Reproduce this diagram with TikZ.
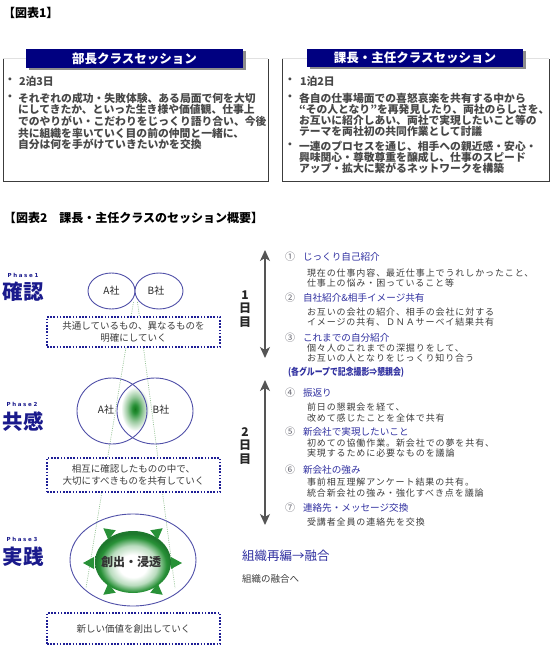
\documentclass[tikz,border=0pt]{standalone}
\usepackage{fontspec}
\setmainfont{Noto Sans CJK JP}
\newfontfamily\phasefont[LetterSpace=30]{DejaVu Sans}
\newfontfamily\descfont[LetterSpace=10]{Noto Sans CJK JP}
\usetikzlibrary{arrows.meta,shadows,shapes.geometric}
\definecolor{hdrnavy}{RGB}{0,0,128}
\definecolor{boxtext}{RGB}{72,72,72}
\definecolor{itemblue}{RGB}{48,48,160}
\definecolor{phaseblue}{RGB}{26,26,140}
\definecolor{ellblue}{RGB}{80,80,168}
\definecolor{dotblue}{RGB}{30,30,150}
\definecolor{ballgreen}{RGB}{40,145,55}
\definecolor{balldark}{RGB}{30,120,45}
\definecolor{balllight}{RGB}{185,220,190}
\definecolor{blobdark}{RGB}{20,120,30}
\definecolor{bloblight}{RGB}{150,200,155}
\definecolor{linegreen}{RGB}{150,195,150}
\definecolor{arrowgray}{RGB}{85,85,85}
\definecolor{desctext}{RGB}{60,60,60}
\definecolor{numgray}{RGB}{100,100,110}
\definecolor{edgedark}{RGB}{60,60,60}
\definecolor{edgelight}{RGB}{225,225,225}
\pgfdeclareradialshading{ballshade}{\pgfpoint{0bp}{-4bp}}{color(0bp)=(white); color(9bp)=(white); color(16bp)=(balllight); color(22bp)=(ballgreen); color(25bp)=(balldark); color(50bp)=(balldark)}
\pgfdeclareradialshading{blobshade}{\pgfpoint{0bp}{0bp}}{color(0bp)=(blobdark); color(5bp)=(ballgreen); color(14bp)=(bloblight); color(25bp)=(white); color(50bp)=(white)}
\begin{document}
\begin{tikzpicture}[x=1pt,y=-1pt,
  every node/.style={inner sep=0pt, outer sep=0pt},
  title/.style={anchor=west, font=\bfseries\fontsize{12}{14}\selectfont},
  hdr/.style={fill=hdrnavy, text=white, font=\bfseries\fontsize{12.5}{14}\selectfont,
    drop shadow={shadow xshift=2.5pt, shadow yshift=-2.5pt, fill=black!45, opacity=1}},
  panel/.style={},
  boxedge/.style={draw=edgedark, line width=1pt},
  boxtop/.style={draw=edgelight, line width=1pt},
  btxt/.style={text=boxtext, font=\bfseries\fontsize{10.8}{11.6}\selectfont, align=left},
  bull/.style={text=boxtext, font=\bfseries\fontsize{10.8}{11.6}\selectfont},
  phsmall/.style={text=phaseblue, font=\phasefont\bfseries\fontsize{5.5}{6}\selectfont},
  phbig/.style={text=phaseblue, font=\bfseries\fontsize{20.5}{22}\selectfont},
  ell/.style={ellipse, draw=ellblue, line width=0.9pt},
  comp/.style={font=\fontsize{10}{12}\selectfont, text=black!85},
  dbox/.style={draw=dotblue, fill=white, line width=1.6pt, dash pattern=on 1.6pt off 1.6pt,
    minimum width=173, align=center, font=\fontsize{9.5}{12}\selectfont, text=desctext},
  gline/.style={draw=linegreen, line width=0.7pt, dash pattern=on 1pt off 1.2pt},
  dayarrow/.style={draw=arrowgray, line width=1.3pt,
    {Stealth[width=10pt,length=11pt,inset=3pt]}-{Stealth[width=10pt,length=11pt,inset=3pt]}},
  daylbl/.style={align=center, font=\bfseries\fontsize{12}{13.3}\selectfont, text=black!85},
  num/.style={text=numgray, font=\fontsize{10}{12}\selectfont},
  ititle/.style={anchor=west, text=itemblue, font=\fontsize{9.6}{12}\selectfont},
  idesc/.style={anchor=north west, text=desctext, font=\descfont\fontsize{9}{10.6}\selectfont, align=left},
  garrow/.pic={\fill[ballgreen] (0,-6) -- (11,0) -- (0,6) -- cycle;}
]
\useasboundingbox (0,0) rectangle (550,650);

% ---------- Figure 1 ----------
\node[title] (t1) at (3,13) {【図表1】};

\node[panel, minimum width=265, minimum height=122] (lbox) at (135.5,120) {};
\draw[boxtop] (lbox.north west) -- (lbox.north east);
\draw[boxedge] (lbox.north west) -- (lbox.south west) -- (lbox.south east) -- (lbox.north east);
\node[panel, minimum width=267, minimum height=122] (rbox) at (415.5,120) {};
\draw[boxtop] (rbox.north west) -- (rbox.north east);
\draw[boxedge] (rbox.north west) -- (rbox.south west) -- (rbox.south east) -- (rbox.north east);

\node[hdr, minimum width=217, minimum height=19] (lhdr) at (134.5,58.5) {部長クラスセッション};
\node[hdr, minimum width=216, minimum height=18] (rhdr) at (415,58) {課長・主任クラスセッション};

\node[bull] (lb1) at (10,81) {・};
\node[btxt, anchor=west] (lt1) at (19,81) {2泊3日};
\node[bull] (lb2) at (10,98) {・};
\node[btxt, anchor=north west] (lt2) at (18,92.8) {それぞれの成功・失敗体験、ある局面で何を大切\\にしてきたか、といった生き様や価値観、仕事上\\でのやりがい・こだわりをじっくり語り合い、今後\\共に組織を率いていく目の前の仲間と一緒に、\\自分は何を手がけていきたいかを交換};

\node[bull] (rb1) at (290,81) {・};
\node[btxt, anchor=west] (rt1) at (300,81) {1泊2日};
\node[bull] (rb2) at (290,98) {・};
\node[btxt, anchor=north west, font=\bfseries\fontsize{10.8}{11}\selectfont] (rt2) at (299,92.8) {各自の仕事場面での喜怒哀楽を共有する中から\\“その人となり”を再発見したり、両社のらしさを、\\お互いに紹介しあい、両社で実現したいこと等の\\テーマを両社初の共同作業として討議};
\node[bull] (rb3) at (290,146) {・};
\node[btxt, anchor=north west, font=\bfseries\fontsize{10.8}{11}\selectfont] (rt3) at (299,140.8) {一連のプロセスを通じ、相手への親近感・安心・\\興味関心・尊敬尊重を醸成し、仕事のスピード\\アップ・拡大に繋がるネットワークを構築};

% ---------- Figure 2 ----------
\node[title] (t2) at (4,218) {【図表2　課長・主任クラスのセッション概要】};

% green guide lines
\coordinate (gtop1) at (133.5,302);
\coordinate (gbot1) at (86,588);
\coordinate (gtop2) at (137.5,302);
\coordinate (gbot2) at (175,588);
\draw[gline] (gtop1) -- (gbot1);
\draw[gline] (gtop2) -- (gbot2);

% phase labels
\node[phsmall] (p1) at (23,275) {Phase1};
\node[phbig] (k1) at (23,292) {確認};
\node[phsmall] (p2) at (22,404) {Phase2};
\node[phbig] (k2) at (23,422) {共感};
\node[phsmall] (p3) at (22,539) {Phase3};
\node[phbig] (k3) at (23,557) {実践};

% phase 1
\node[ell, fill=white, minimum width=47, minimum height=36] (a1) at (111.5,291) {};
\node[ell, fill=white, minimum width=48, minimum height=36] (b1) at (159,291) {};
\node[comp] (a1t) at (111.5,291) {A社};
\node[comp] (b1t) at (156,291) {B社};
\node[dbox, minimum height=30] (box1) at (133.5,332) {共通しているもの、異なるものを\\明確にしていく};

% phase 2
\shade[shading=blobshade] (135,409) ellipse (14pt and 22pt);
\node[ell, minimum width=70, minimum height=66] (a2) at (112,411) {};
\node[ell, minimum width=76, minimum height=66] (b2) at (155,411) {};
\node[comp] (a2t) at (106,410) {A社};
\node[comp] (b2t) at (161,410) {B社};
\node[dbox, minimum height=34] (box2) at (133.5,475) {相互に確認したものの中で、\\大切にすべきものを共有していく};

% phase 3
\node[ell, minimum width=126, minimum height=92] (outer3) at (133,560) {};
\node[ellipse, shade, shading=ballshade, minimum width=76, minimum height=62] (ball) at (133,562) {};
\node[font=\bfseries\fontsize{12}{14}\selectfont, text=black!80] (ballt) at (131,562) {創出・浸透};
\pic[rotate=142] at (112,535) {garrow};
\pic[rotate=38] at (154,535) {garrow};
\pic[rotate=180] at (94,563) {garrow};
\pic[rotate=0] at (171,563) {garrow};
\pic[rotate=218] at (112,588) {garrow};
\pic[rotate=-38] at (154,588) {garrow};
\node[dbox, minimum height=31] (box3) at (133.5,628.5) {新しい価値を創出していく};

% day arrows
\coordinate (d1t) at (265,250);
\coordinate (d1b) at (265,358);
\draw[dayarrow] (d1t) -- (d1b);
\coordinate (d2t) at (265,380);
\coordinate (d2b) at (265,525);
\draw[dayarrow] (d2t) -- (d2b);
\node[daylbl] (day1) at (245,309) {1\\日\\目};
\node[daylbl] (day2) at (245,446) {2\\日\\目};

% items
\node[num] (n1) at (290,257) {①};
\node[ititle] (i1) at (303,257) {じっくり自己紹介};
\node[idesc] (e1) at (307,268.8) {現在の仕事内容、最近仕事上でうれしかったこと、\\仕事上の悩み・困っていること等};
\node[num] (n2) at (290,298) {②};
\node[ititle] (i2) at (303,298) {自社紹介\&相手イメージ共有};
\node[idesc] (e2) at (307,307.8) {お互いの会社の紹介、相手の会社に対する\\イメージの共有、ＤＮＡサーベイ結果共有};
\node[num] (n3) at (290,338) {③};
\node[ititle] (i3) at (303,338) {これまでの自分紹介};
\node[idesc] (e3) at (307,343.8) {個々人のこれまでの深掘りをして、\\お互いの人となりをじっくり知り合う};
\node[anchor=west, text=itemblue, font=\bfseries\fontsize{9.6}{12}\selectfont] (party) at (288,372) {\scalebox{0.82}[1]{(各グループで記念撮影⇒懇親会)}};

\node[num] (n4) at (290,393) {④};
\node[ititle] (i4) at (303,393) {振返り};
\node[idesc] (e4) at (307,402.8) {前日の懇親会を経て、\\改めて感じたことを全体で共有};
\node[num] (n5) at (290,432) {⑤};
\node[ititle] (i5) at (303,432) {新会社で実現したいこと};
\node[idesc] (e5) at (307,438.8) {初めての協働作業。新会社での夢を共有、\\実現するために必要なものを議論};
\node[num] (n6) at (290,470) {⑥};
\node[ititle] (i6) at (303,470) {新会社の強み};
\node[idesc] (e6) at (307,477.8) {事前相互理解アンケート結果の共有。\\統合新会社の強み・強化すべき点を議論};
\node[num] (n7) at (290,508) {⑦};
\node[ititle] (i7) at (303,508) {連絡先・メッセージ交換};
\node[idesc] (e7) at (307,517.8) {受講者全員の連絡先を交換};

\node[anchor=west, text=itemblue, font=\fontsize{12.5}{14}\selectfont] (fus) at (242,556) {組織再編→融合};
\node[anchor=west, text=desctext, font=\fontsize{9.5}{12}\selectfont] (fus2) at (242,579) {組織の融合へ};
\end{tikzpicture}
\end{document}
